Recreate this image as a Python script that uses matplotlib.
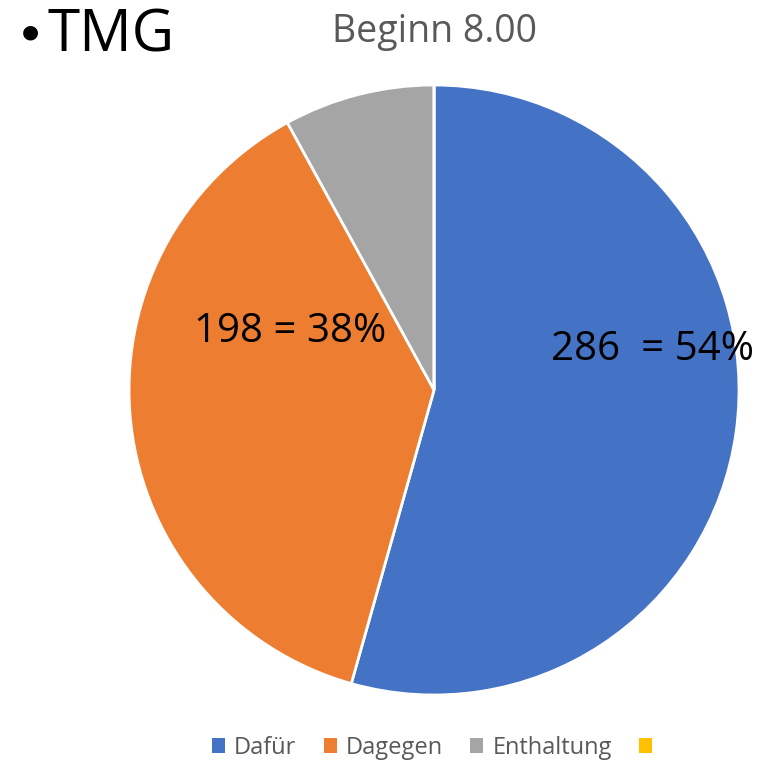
import matplotlib.pyplot as plt
from matplotlib.patches import Patch

plt.rcParams['font.family'] = ['Open Sans', 'DejaVu Sans']

categories = ["Dafür", "Dagegen", "Enthaltung", ""]
votes = [286, 198, 42, 0]
colors = ["#4472C4", "#ED7D31", "#A5A5A5", "#FFC000"]
labels = ["286  = 54%", "198 = 38%"]

fig = plt.figure(figsize=(7.69, 7.63), dpi=100)
ax = fig.add_axes([0.1678, 0.0891, 0.7932, 0.7995])

wedges, _ = ax.pie(
    votes, colors=colors, startangle=90, counterclock=False,
    wedgeprops={"edgecolor": "white", "linewidth": 2},
)
ax.set_xlim(-1, 1)
ax.set_ylim(-1, 1)
ax.set_aspect("auto")

# slice labels (placed like the original text boxes)
ax.text(0.715, 0.098, labels[0], ha="center", va="baseline", fontsize=29, color="black")
ax.text(-0.472, 0.157, labels[1], ha="center", va="baseline", fontsize=29, color="black")

fig.text(0.565, 0.945, "Beginn 8.00", ha="center", va="baseline", fontsize=27, color="#595959")
fig.text(0.039, 0.958, "\u25CF", ha="center", va="center", fontsize=14, color="black",
         family=["DejaVu Sans"])
fig.text(0.062, 0.932, "TMG", ha="left", va="baseline", fontsize=42, color="black")

handles = [Patch(facecolor=c, edgecolor="none") for c in colors]
fig.legend(
    handles, categories, loc="center", bbox_to_anchor=(0.568, 0.02), ncol=4,
    frameon=False, fontsize=17, handlelength=0.55, handleheight=0.55,
    handletextpad=0.4, columnspacing=1.15, labelcolor="#595959",
)

fig.savefig("out.png", dpi=100)
